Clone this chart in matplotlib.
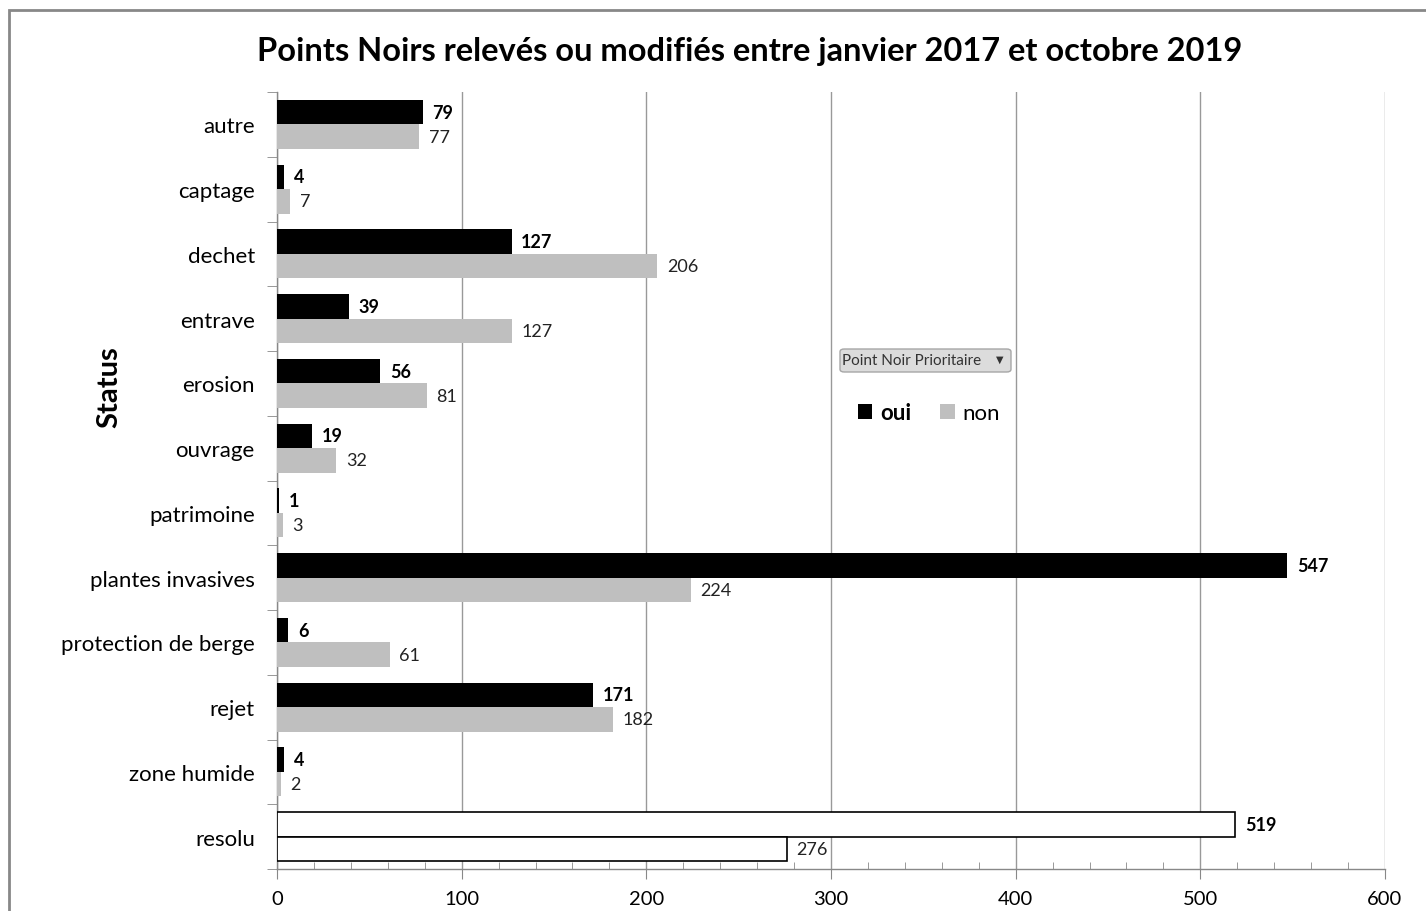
import matplotlib.pyplot as plt
import matplotlib.patches as patches
import numpy as np

categories = ["autre", "captage", "dechet", "entrave", "erosion", "ouvrage",
              "patrimoine", "plantes invasives", "protection de berge", "rejet",
              "zone humide", "resolu"]
oui = [79, 4, 127, 39, 56, 19, 1, 547, 6, 171, 4, 519]
non = [77, 7, 206, 127, 81, 32, 3, 224, 61, 182, 2, 276]

plt.rcParams['font.family'] = ['Lato', 'DejaVu Sans']

W, H = 1426, 912
fig = plt.figure(figsize=(W / 100, H / 100), dpi=100)
ax = fig.add_axes([277 / W, 1 - 870 / H, (1385 - 277) / W, (870 - 93) / H])

y = np.arange(len(categories))
h = 0.38
oui_colors = ['black'] * (len(categories) - 1) + ['white']
non_colors = ['#bfbfbf'] * (len(categories) - 1) + ['white']
edge = ['none'] * (len(categories) - 1) + ['black']
b1 = ax.barh(y - h / 2, oui, height=h, color=oui_colors, edgecolor=edge, linewidth=1.2, zorder=3)
b2 = ax.barh(y + h / 2, non, height=h, color=non_colors, edgecolor=edge, linewidth=1.2, zorder=3)

for yi, v in zip(y, oui):
    ax.annotate(str(v), (v, yi - h / 2), xytext=(7, 0), textcoords='offset points',
                va='center', ha='left', fontsize=13, fontweight='bold', color='black')
for yi, v in zip(y, non):
    ax.annotate(str(v), (v, yi + h / 2), xytext=(7, 0), textcoords='offset points',
                va='center', ha='left', fontsize=13, color='#222222')

ax.set_xlim(0, 600)
ax.set_ylim(len(categories) - 0.5, -0.5)
ax.set_xticks(np.arange(0, 601, 100))
ax.set_xticks(np.arange(0, 601, 20), minor=True)
ax.set_yticks(y)
ax.set_yticklabels(categories)
ax.set_yticks(np.arange(-0.5, len(categories), 1), minor=True)

ax.tick_params(axis='x', which='major', direction='out', length=7, color='#888888',
               labelsize=14.5, pad=8)
ax.tick_params(axis='x', which='minor', direction='in', length=5, color='#888888')
ax.tick_params(axis='y', which='major', length=0, labelsize=16, pad=16)
ax.tick_params(axis='y', which='minor', direction='out', length=7, color='#888888')

ax.grid(axis='x', which='major', color='#999999', linewidth=1, zorder=0)
for s in ['top', 'right']:
    ax.spines[s].set_visible(False)
for s in ['left', 'bottom']:
    ax.spines[s].set_color('#888888')
    ax.spines[s].set_linewidth(1)

ax.set_ylabel("Status", fontsize=21, fontweight='bold')
ax.yaxis.set_label_coords(-0.14, 0.622)

fig.text(750 / W, 1 - 52 / H, "Points Noirs relevés ou modifiés entre janvier 2017 et octobre 2019",
         ha='center', va='center', fontsize=23.5, fontweight='bold')

# filter button
btn = patches.FancyBboxPatch((840 / W, 1 - 373 / H), 171 / W, 23 / H,
                             boxstyle="round,pad=0,rounding_size=0.003",
                             transform=fig.transFigure, facecolor='#dcdcdc',
                             edgecolor='#a6a6a6', linewidth=1)
fig.patches.append(btn)
fig.text(842 / W, 1 - 361 / H, "Point Noir Prioritaire", ha='left', va='center',
         fontsize=11, color='#333333')
fig.text(1000 / W, 1 - 360 / H, "▼", ha='center', va='center', fontsize=7,
         color='#333333', family='DejaVu Sans')

leg = fig.legend([b1.patches[0], b2.patches[0]], ["oui", "non"], loc='center',
                 bbox_to_anchor=(929 / W, 1 - 414 / H), ncol=2, frameon=False,
                 fontsize=16, handlelength=0.65, handleheight=0.65,
                 handletextpad=0.35, columnspacing=1.3)
leg.get_texts()[0].set_fontweight('bold')

# outer border
border = patches.Rectangle((9 / W, -0.1), 2, 1.1 - 11 / H, transform=fig.transFigure,
                           fill=False, edgecolor='#888888', linewidth=2)
fig.patches.append(border)

fig.savefig("out.png", dpi=100)
